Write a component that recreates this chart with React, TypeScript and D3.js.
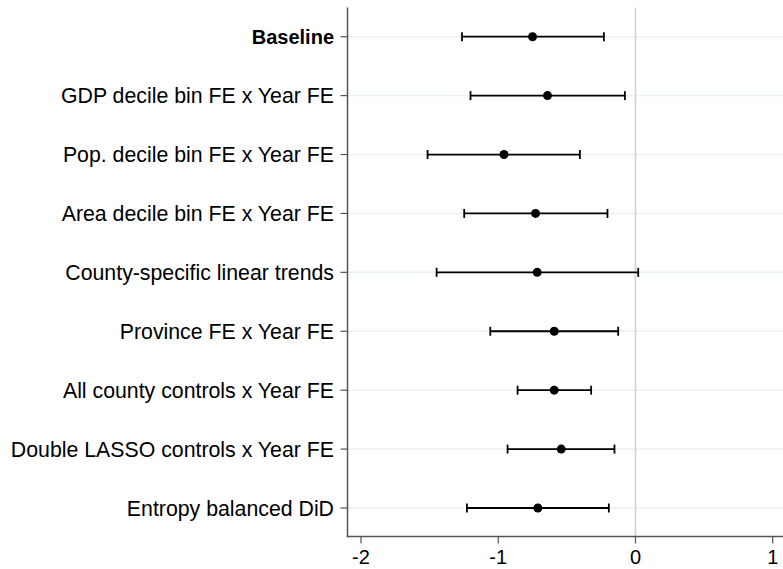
import React from "react";
import * as d3 from "d3";

const labels = [
  "Baseline",
  "GDP decile bin FE x Year FE",
  "Pop. decile bin FE x Year FE",
  "Area decile bin FE x Year FE",
  "County-specific linear trends",
  "Province FE x Year FE",
  "All county controls x Year FE",
  "Double LASSO controls x Year FE",
  "Entropy balanced DiD",
];
const estimates = [-0.75, -0.641, -0.958, -0.728, -0.716, -0.592, -0.592, -0.541, -0.711];
const lower = [-1.264, -1.202, -1.515, -1.248, -1.449, -1.058, -0.859, -0.932, -1.228];
const upper = [-0.23, -0.077, -0.405, -0.204, 0.02, -0.126, -0.323, -0.153, -0.194];
const xTicks = [-2, -1, 0, 1];

export default function App() {
  const W = 783, H = 569;
  const axisX = 347.5;
  const axisY = 536.5;
  const top = 7.5;
  const x = d3.scaleLinear().domain([-2, 1]).range([361, 772.7]);
  const y = d3.scalePoint<string>().domain(labels).range([36.7, 508]);
  const font = "Arial, 'Liberation Sans', Helvetica, sans-serif";
  return (
    <svg width={W} height={H} style={{ position: "absolute", left: 0, top: 0 }} fontFamily={font}>
      <rect width={W} height={H} fill="#fff" />
      {labels.map((l) => (
        <line key={"g" + l} x1={axisX} x2={W} y1={y(l)} y2={y(l)} stroke="#eaf2f3" strokeWidth={1.5} />
      ))}
      <line x1={x(0)} x2={x(0)} y1={top} y2={axisY} stroke="#d0d0d0" strokeWidth={1.5} />
      {labels.map((l, i) => {
        const yy = y(l)!;
        return (
          <g key={"e" + l}>
            <line x1={x(lower[i])} x2={x(upper[i])} y1={yy} y2={yy} stroke="#000" strokeWidth={1.8} />
            <line x1={x(lower[i])} x2={x(lower[i])} y1={yy - 4.5} y2={yy + 4.5} stroke="#000" strokeWidth={1.8} />
            <line x1={x(upper[i])} x2={x(upper[i])} y1={yy - 4.5} y2={yy + 4.5} stroke="#000" strokeWidth={1.8} />
            <circle cx={x(estimates[i])} cy={yy} r={4.5} fill="#000" />
          </g>
        );
      })}
      <line x1={axisX} x2={axisX} y1={top} y2={axisY + 0.75} stroke="#555" strokeWidth={1.5} />
      <line x1={axisX - 0.75} x2={W} y1={axisY} y2={axisY} stroke="#555" strokeWidth={1.5} />
      {labels.map((l, i) => (
        <g key={"t" + l}>
          <line x1={axisX - 7} x2={axisX} y1={y(l)} y2={y(l)} stroke="#555" strokeWidth={1.2} />
          <text x={334} y={y(l)} dy="0.36em" textAnchor="end" fontSize={i === 0 ? 20 : 21.3} fontWeight={i === 0 ? "bold" : "normal"} fill="#000">
            {l}
          </text>
        </g>
      ))}
      {xTicks.map((t) => (
        <g key={"x" + t}>
          <line x1={x(t)} x2={x(t)} y1={axisY} y2={axisY + 7} stroke="#555" strokeWidth={1.2} />
          <text x={x(t)} y={564} textAnchor="middle" fontSize={20} fill="#000">
            {t}
          </text>
        </g>
      ))}
    </svg>
  );
}
